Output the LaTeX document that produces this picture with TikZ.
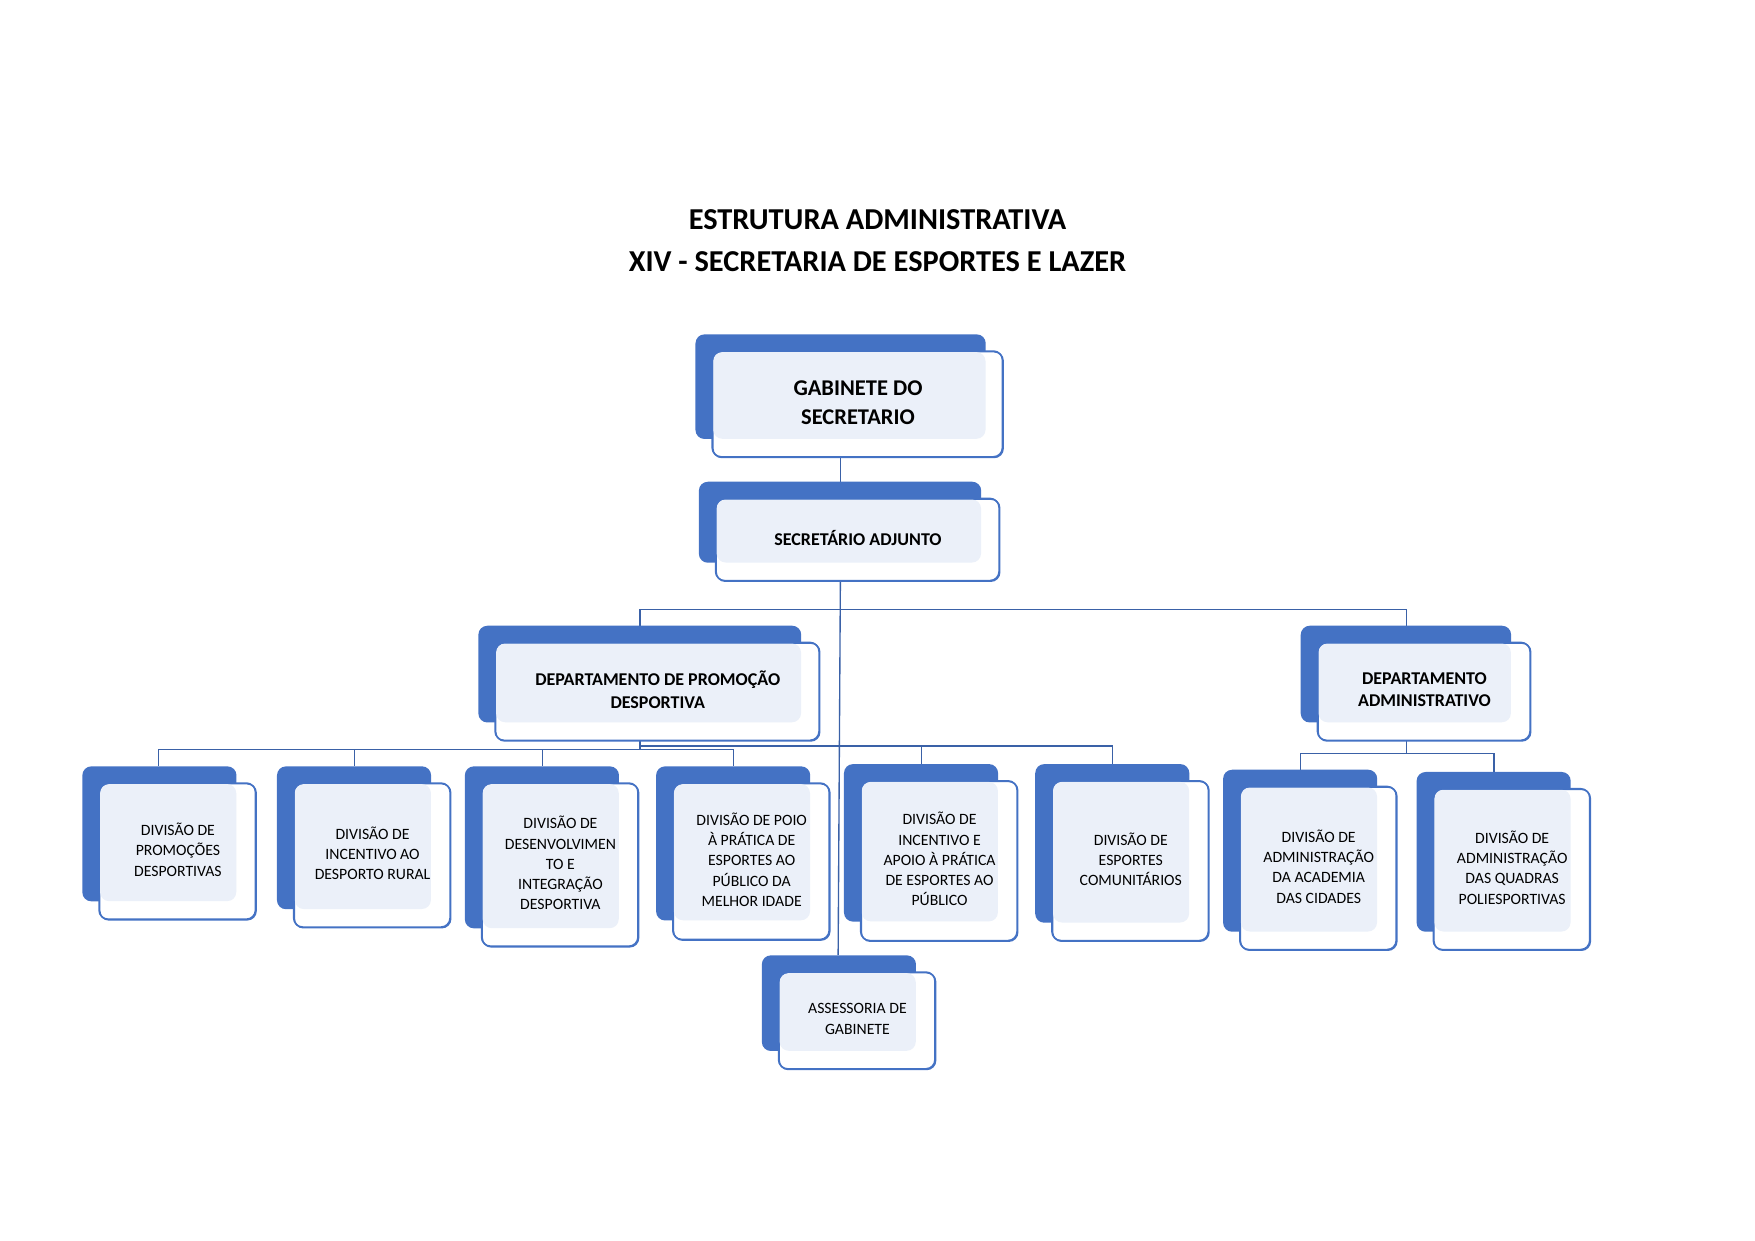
\documentclass[tikz,border=0pt]{standalone}
\usepackage{fontspec}
\setmainfont{Carlito}
\usetikzlibrary{calc}
\definecolor{dk}{HTML}{4472C4}
\definecolor{lt}{HTML}{EBF0F9}
\tikzset{x=1pt,y=-1pt,
 conn/.style={draw=dk!85!black,line width=1.2pt},
 txt/.style={align=center,font=\fontsize{14}{18}\selectfont},
 btxt/.style={align=center,font=\bfseries\fontsize{16}{20}\selectfont}}
\newcommand\obox[9]{%
 \node[fill=dk,rounded corners=8pt,inner sep=0pt,anchor=north west,minimum width={(#4-#2)*1pt},minimum height={(#5-#3)*1pt}] (#1d) at (#2,#3) {};
 \node[fill=white,draw=dk,line width=1.3pt,rounded corners=8pt,inner sep=0pt,anchor=north west,minimum width={(#6-#2-15)*1pt},minimum height={(#7-#3-15)*1pt}] (#1) at (#2+15,#3+15) {};
 \fill[lt,rounded corners=8pt] (#2+16,#3+16) rectangle (#4,#5);
 \draw[dk,line width=1.3pt,rounded corners=8pt] (#2+15,#3+15) rectangle (#6,#7);
 \node[#9] (#1t) at ($(#1.center)+(0,-2)$) {#8};
}
\begin{document}
\begin{tikzpicture}
\useasboundingbox (0,0) rectangle (1560,1103);
\node[font=\bfseries\fontsize{27}{37}\selectfont,align=center] (title) at (780,214) {ESTRUTURA ADMINISTRATIVA\\XIV - SECRETARIA DE ESPORTES E LAZER};
\draw[conn] (747,406) -- (747,428);
\draw[conn] (747,516) -- (745,849);
\draw[conn] (569,556) -- (569,542) -- (1250,542) -- (1250,556);
\draw[conn] (569,658) -- (569,666);
\draw[conn] (141,681) -- (141,666) -- (652,666) -- (652,681);
\draw[conn] (315,666) -- (315,681);
\draw[conn] (482,666) -- (482,681);
\draw[conn] (569,663) -- (989,663) -- (989,679);
\draw[conn] (819,663) -- (819,679);
\draw[conn] (1250,658) -- (1250,670);
\draw[conn] (1156,684) -- (1156,670) -- (1328,670) -- (1328,686);
\obox{gab}{618}{297}{876}{390}{891}{406}{GABINETE DO\\SECRETARIO}{align=center,font=\bfseries\fontsize{20}{26}\selectfont}
\obox{sec}{621}{428}{872}{500}{888}{516}{SECRETÁRIO ADJUNTO}{btxt}
\obox{dpd}{425}{556}{712}{642}{728}{658}{DEPARTAMENTO DE PROMOÇÃO\\DESPORTIVA}{btxt}
\obox{dad}{1156}{556}{1343}{642}{1360}{658}{DEPARTAMENTO\\ADMINISTRATIVO}{btxt}
\obox{b1}{73}{681}{210}{801}{227}{817}{DIVISÃO DE\\PROMOÇÕES\\DESPORTIVAS}{txt}
\obox{b2}{246}{681}{383}{808}{400}{824}{DIVISÃO DE\\INCENTIVO AO\\DESPORTO RURAL}{txt}
\obox{b3}{413}{681}{550}{825}{567}{841}{DIVISÃO DE\\DESENVOLVIMEN\\TO E\\INTEGRAÇÃO\\DESPORTIVA}{txt}
\obox{b4}{583}{681}{720}{818}{737}{835}{DIVISÃO DE POIO\\À PRÁTICA DE\\ESPORTES AO\\PÚBLICO DA\\MELHOR IDADE}{txt}
\obox{b5}{750}{679}{887}{819}{904}{836}{DIVISÃO DE\\INCENTIVO E\\APOIO À PRÁTICA\\DE ESPORTES AO\\PÚBLICO}{txt}
\obox{b6}{920}{679}{1057}{820}{1074}{836}{DIVISÃO DE\\ESPORTES\\COMUNITÁRIOS}{txt}
\obox{b7}{1087}{684}{1224}{828}{1241}{844}{DIVISÃO DE\\ADMINISTRAÇÃO\\DA ACADEMIA\\DAS CIDADES}{txt}
\obox{b8}{1259}{686}{1396}{828}{1413}{844}{DIVISÃO DE\\ADMINISTRAÇÃO\\DAS QUADRAS\\POLIESPORTIVAS}{txt}
\obox{ass}{677}{849}{814}{934}{831}{950}{ASSESSORIA DE\\GABINETE}{txt}
\end{tikzpicture}
\end{document}
